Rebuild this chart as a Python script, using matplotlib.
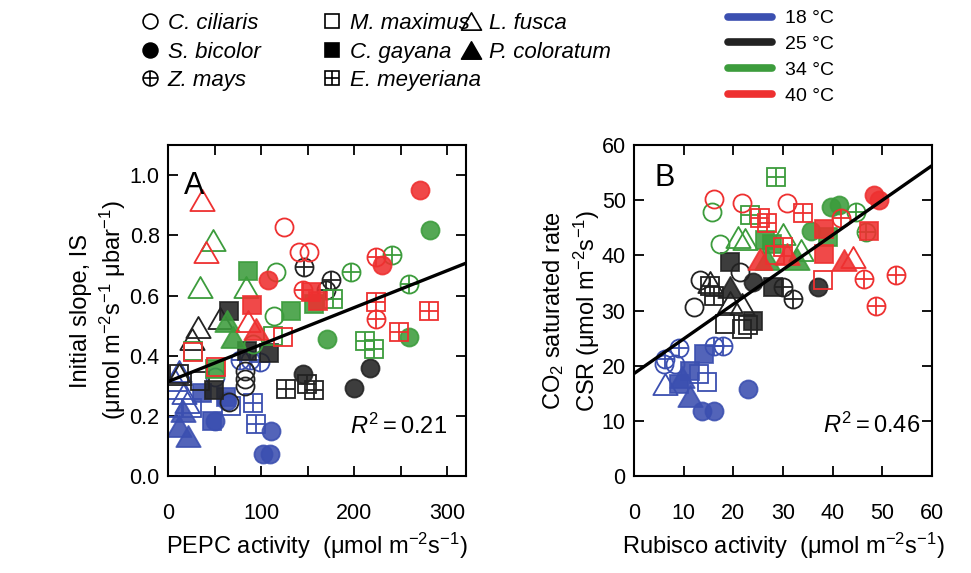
import numpy as np
import matplotlib
matplotlib.use("Agg")
import matplotlib.pyplot as plt
from matplotlib.lines import Line2D
from matplotlib.path import Path
from matplotlib.legend_handler import HandlerTuple
from matplotlib.ticker import MultipleLocator

plt.rcParams["font.family"] = ["Liberation Sans", "DejaVu Sans"]
plt.rcParams["mathtext.fontset"] = "custom"
plt.rcParams["mathtext.rm"] = "Liberation Sans"
plt.rcParams["mathtext.it"] = "Liberation Sans:italic"

# ---- data: (species, x, y) ----
# Panel A: PEPC activity vs initial slope
A_18 = [("Lf", 7, 0.32), ("Lf", 12, 0.35), ("Lf", 17, 0.275), ("Lf", 20, 0.245),
        ("Pc", 12, 0.165), ("Pc", 22, 0.135), ("Pc", 16, 0.215),
        ("Mm", 5, 0.228), ("Mm", 26, 0.228), ("Mm", 68, 0.233),
        ("Cg", 36, 0.275), ("Cg", 62, 0.262), ("Cg", 47, 0.183),
        ("Sb", 50, 0.183), ("Sb", 63, 0.25), ("Sb", 111, 0.15),
        ("Sb", 102, 0.073), ("Sb", 110, 0.073),
        ("Cc", 50, 0.33),
        ("Zm", 77, 0.385), ("Zm", 88, 0.385), ("Zm", 99, 0.38),
        ("Em", 91, 0.244), ("Em", 95, 0.173)]
A_25 = [("Lf", 32, 0.495), ("Lf", 56, 0.525), ("Lf", 26, 0.455), ("Lf", 12, 0.34),
        ("Cg", 65, 0.55), ("Cg", 85, 0.415), ("Cg", 108, 0.41), ("Cg", 49, 0.285),
        ("Mm", 12, 0.34), ("Mm", 34, 0.315),
        ("Cc", 83, 0.35), ("Cc", 83, 0.323), ("Cc", 83, 0.30), ("Cc", 66, 0.245),
        ("Sb", 145, 0.34), ("Sb", 200, 0.294), ("Sb", 217, 0.359),
        ("Em", 127, 0.29), ("Em", 149, 0.305), ("Em", 157, 0.285),
        ("Zm", 146, 0.694), ("Zm", 175, 0.65), ("Zm", 170, 0.617)]
A_34 = [("Sb", 281, 0.817), ("Sb", 171, 0.456), ("Sb", 259, 0.461),
        ("Lf", 48, 0.783), ("Lf", 34, 0.628), ("Lf", 84, 0.628),
        ("Cg", 86, 0.683), ("Cg", 157, 0.572), ("Cg", 132, 0.55), ("Cg", 50, 0.356),
        ("Cc", 116, 0.678), ("Cc", 114, 0.533), ("Cc", 91, 0.439),
        ("Zm", 196, 0.678), ("Zm", 241, 0.733), ("Zm", 259, 0.639),
        ("Em", 177, 0.589), ("Em", 212, 0.45), ("Em", 221, 0.422),
        ("Pc", 63, 0.517), ("Pc", 70, 0.461),
        ("Mm", 113, 0.467), ("Mm", 27, 0.417)]
A_40 = [("Lf", 36, 0.917), ("Lf", 41, 0.744), ("Lf", 86, 0.517),
        ("Sb", 271, 0.952), ("Sb", 107, 0.65), ("Sb", 230, 0.70),
        ("Cc", 125, 0.828), ("Cc", 141, 0.744), ("Cc", 151, 0.744),
        ("Zm", 145, 0.617), ("Zm", 223, 0.728), ("Zm", 223, 0.522),
        ("Cg", 154, 0.611), ("Cg", 161, 0.583), ("Cg", 90, 0.567),
        ("Em", 223, 0.578), ("Em", 280, 0.55), ("Em", 248, 0.478),
        ("Pc", 95, 0.489),
        ("Mm", 123, 0.461), ("Mm", 27, 0.411), ("Mm", 52, 0.361)]

# Panel B: Rubisco activity vs CO2 saturated rate
B_18 = [("Zm", 9, 23.3), ("Zm", 16, 23.6), ("Zm", 18, 23.6), ("Zm", 6.3, 21.2),
        ("Cc", 6, 20.3), ("Cc", 8.3, 20.3),
        ("Cg", 14, 22.1), ("Cg", 9, 16.7), ("Cg", 11.3, 19.1),
        ("Lf", 6.3, 16.7),
        ("Pc", 9.7, 17.9), ("Pc", 11.3, 14.5),
        ("Mm", 14.7, 17.0), ("Mm", 13, 18.5),
        ("Sb", 23, 15.8), ("Sb", 13.7, 11.8), ("Sb", 16, 11.8)]
B_25 = [("Cg", 19.3, 38.8), ("Cg", 28, 34.2), ("Cg", 24, 28.2),
        ("Cc", 13.3, 35.5), ("Cc", 21.3, 37.0), ("Cc", 12, 30.6),
        ("Em", 15.3, 34.5), ("Em", 16, 32.7),
        ("Lf", 15.3, 35.2), ("Lf", 19.3, 31.5), ("Lf", 21.7, 31.2),
        ("Pc", 19.3, 34.2),
        ("Sb", 24, 35.2), ("Sb", 37, 34.2),
        ("Zm", 30, 34.2), ("Zm", 32, 32.1),
        ("Mm", 18.3, 27.6), ("Mm", 21.7, 26.7), ("Mm", 23, 27.3)]
B_34 = [("Em", 28.5, 54.2), ("Em", 23.3, 47.3),
        ("Cc", 15.7, 47.9), ("Cc", 17.3, 42.1),
        ("Lf", 21, 43.3), ("Lf", 22.3, 43.0), ("Lf", 30, 43.9), ("Lf", 33.7, 40.9),
        ("Sb", 39.7, 48.8), ("Sb", 41.3, 49.1), ("Sb", 35.7, 44.5),
        ("Zm", 44.7, 47.9), ("Zm", 46.7, 44.2),
        ("Cg", 26.3, 42.7), ("Cg", 27.7, 42.1), ("Cg", 39, 43.3),
        ("Pc", 26.7, 39.4), ("Pc", 32.7, 39.4)]
B_40 = [("Cc", 16, 50.3), ("Cc", 21.7, 49.4), ("Cc", 30.7, 49.4),
        ("Sb", 48.3, 50.9), ("Sb", 49.3, 50.0),
        ("Em", 25.3, 46.7), ("Em", 26.7, 45.8), ("Em", 34, 47.6), ("Em", 30, 41.5),
        ("Cg", 38.3, 44.8), ("Cg", 38.3, 40.3), ("Cg", 47.3, 44.5),
        ("Zm", 41.7, 46.7), ("Zm", 46.3, 35.8), ("Zm", 52.7, 36.4), ("Zm", 48.7, 30.9),
        ("Pc", 25.3, 39.4), ("Pc", 42.3, 39.1), ("Pc", 30.7, 40.3),
        ("Lf", 44, 39.7),
        ("Mm", 38, 35.5), ("Mm", 28.3, 40.0)]

A_FIT = (0.314, 0.00123)   # intercept, slope
B_FIT = (18.6, 0.628)
A_R2 = "0.21"
B_R2 = "0.46"

TEMPS = ["18 °C", "25 °C", "34 °C", "40 °C"]
COLORS = ["#3b4fb0", "#222222", "#3c9c3c", "#ee3030"]

TRI = Path([(0, 1), (-1.155, -1), (1.155, -1), (0, 1)],
           [Path.MOVETO, Path.LINETO, Path.LINETO, Path.CLOSEPOLY])

SPECIES = {
    "Cc": ("C. ciliaris", "o", False, False),
    "Sb": ("S. bicolor", "o", True, False),
    "Zm": ("Z. mays", "o", False, True),
    "Mm": ("M. maximus", "s", False, False),
    "Cg": ("C. gayana", "s", True, False),
    "Em": ("E. meyeriana", "s", False, True),
    "Lf": ("L. fusca", TRI, False, False),
    "Pc": ("P. coloratum", TRI, True, False),
}


def _ms(mk, scale=1.0):
    if isinstance(mk, Path):
        return 17.5 * scale
    return (13 if mk == "o" else 12.5) * scale


def draw_points(ax, pts, color):
    for sp, x, y in pts:
        _, mk, filled, plus = SPECIES[sp]
        ms = _ms(mk)
        ax.plot(x, y, marker=mk, ms=ms, ls="none",
                mfc=color if filled else "none", mec=color, mew=1.3,
                alpha=0.88 if filled else 1.0)
        if plus:
            ax.plot(x, y, marker="+", ms=ms, ls="none", mec=color, mew=1.3)


def style_axes(ax):
    for s in ax.spines.values():
        s.set_linewidth(1.5)
    ax.tick_params(which="both", direction="in", top=True, right=True,
                   length=7, width=1.3, labelsize=15.5)
    ax.tick_params(axis="x", which="both", pad=19)
    ax.tick_params(axis="y", which="both", pad=6)


fig = plt.figure(figsize=(9.71, 5.73), dpi=100)
axA = fig.add_axes([0.173, 0.169, 0.307, 0.578])
axB = fig.add_axes([0.653, 0.169, 0.307, 0.578])

for pts, c in zip([A_18, A_25, A_34, A_40], COLORS):
    draw_points(axA, pts, c)
for pts, c in zip([B_18, B_25, B_34, B_40], COLORS):
    draw_points(axB, pts, c)

xa = np.array([0, 320])
axA.plot(xa, A_FIT[0] + A_FIT[1] * xa, color="black", lw=2.4, zorder=5)
xb = np.array([0, 60])
axB.plot(xb, B_FIT[0] + B_FIT[1] * xb, color="black", lw=2.4, zorder=5)

axA.set_xlim(0, 320)
axA.set_ylim(0, 1.1)
axA.xaxis.set_major_locator(MultipleLocator(100))
axA.xaxis.set_minor_locator(MultipleLocator(50))
axA.yaxis.set_major_locator(MultipleLocator(0.2))
axA.yaxis.set_major_formatter(plt.FormatStrFormatter("%.1f"))
style_axes(axA)
axA.set_xlabel("PEPC activity  (μmol m$^{-2}$s$^{-1}$)", fontsize=17, labelpad=5)
axA.set_ylabel("Initial slope, IS\n(μmol m$^{-2}$s$^{-1}$ μbar$^{-1}$)", fontsize=17,
               linespacing=1.25)
axA.yaxis.set_label_coords(-0.135, 0.5)
axA.text(28, 0.965, "A", fontsize=22, ha="center", va="center")
axA.text(300, 0.165, "$R^2 = $" + A_R2, fontsize=17, ha="right", va="center")

axB.set_xlim(0, 60)
axB.set_ylim(0, 60)
axB.xaxis.set_major_locator(MultipleLocator(10))
axB.yaxis.set_major_locator(MultipleLocator(10))
style_axes(axB)
axB.set_xlabel("Rubisco activity  (μmol m$^{-2}$s$^{-1}$)", fontsize=17, labelpad=5)
axB.set_ylabel("CO$_2$ saturated rate\nCSR (μmol m$^{-2}$s$^{-1}$)", fontsize=17,
               linespacing=1.25)
axB.yaxis.set_label_coords(-0.108, 0.5)
axB.text(6.2, 54, "B", fontsize=22, ha="center", va="center")
axB.text(57.5, 9.2, "$R^2 = $" + B_R2, fontsize=17, ha="right", va="center")

# species legends (three columns)
columns = [["Cc", "Sb", "Zm"], ["Mm", "Cg", "Em"], ["Lf", "Pc"]]
col_x = [0.143, 0.3306, 0.4736]
for codes, x0 in zip(columns, col_x):
    handles, labels = [], []
    for sp in codes:
        lab, mk, filled, plus = SPECIES[sp]
        ms = _ms(mk, 0.82)
        h = Line2D([], [], marker=mk, ms=ms, ls="none",
                   mfc="black" if filled else "none", mec="black", mew=1.2)
        if plus:
            h = (h, Line2D([], [], marker="+", ms=ms, ls="none", mec="black", mew=1.2))
        handles.append(h)
        labels.append(lab)
    fig.legend(handles, labels, loc="upper left", bbox_to_anchor=(x0, 0.977),
               frameon=False, prop={"style": "italic", "size": 16},
               handler_map={tuple: HandlerTuple(ndivide=1)},
               handlelength=1.0, handletextpad=0.3, labelspacing=0.33,
               borderpad=0, borderaxespad=0)

# temperature legend
t_handles = [Line2D([], [], color=c, lw=5.5, solid_capstyle="round") for c in COLORS]
fig.legend(t_handles, TEMPS, loc="upper left", bbox_to_anchor=(0.75, 0.983),
           frameon=False, fontsize=14, handlelength=2.27, handletextpad=0.67,
           labelspacing=0.42, borderpad=0, borderaxespad=0)

fig.savefig("out.png", dpi=100)
